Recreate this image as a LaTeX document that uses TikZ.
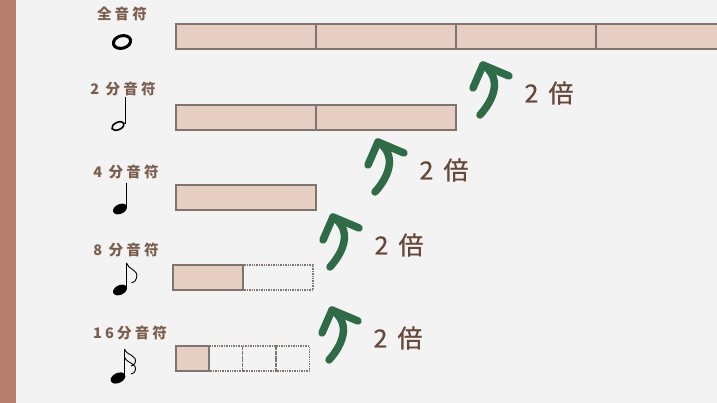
\documentclass[tikz,border=0pt]{standalone}
\usepackage{fontspec}
\usepackage{tikz}
\newfontfamily\jplabel[LetterSpace=22]{Noto Sans CJK JP}
\newfontfamily\jptimes[LetterSpace=18, FakeBold=0.6]{Noto Sans CJK JP}
\definecolor{bg}{HTML}{F3F3F3}
\definecolor{side}{HTML}{B87F6C}
\definecolor{cf}{HTML}{E6CFC2}
\definecolor{cg}{HTML}{7E7571}
\definecolor{up}{HTML}{2F6B47}
\definecolor{lc}{HTML}{7B5F4E}
\definecolor{tc}{HTML}{66493A}
\tikzset{
	every picture/.style={
		x=1pt,
		y=-1pt,
	},
}
\tikzstyle{cell} = [
	draw=cg,
	fill=cf,
	line width=2pt
]
\tikzstyle{empty} = [
	draw=cg,
	densely dotted,
	line width=1.4pt
]
\tikzstyle{kind} = [
	text=lc,
	inner sep=0mm,
	font=\jplabel\bfseries\fontsize{14.5}{14.5}\selectfont
]
\tikzstyle{times} = [
	text=tc,
	inner sep=0mm,
	font=\jptimes\fontsize{25}{25}\selectfont
]
\tikzstyle{arc} = [
	draw=up,
	line width=7.5pt,
	line cap=round,
	line join=round
]
\tikzstyle{stem} = [
	draw=black,
	line width=.9pt
]

\begin{document}
\begin{tikzpicture}
	\useasboundingbox (0,0) rectangle (717,403);
	\fill[bg] (0,0) rectangle (717,403);
	\fill[side] (0,0) rectangle (16,403);

	% note names
	\node[kind] (k1) at (122,14) {全音符};
	\node[kind] (k2) at (123,89) {2 分音符};
	\node[kind] (k4) at (126,172) {4 分音符};
	\node[kind] (k8) at (126,250) {8 分音符};
	\node[kind] (k16) at (130,333) {16分音符};

	% notes
	\draw[line width=3pt, rotate around={15:(122,42)}] (122,42) ellipse [x radius=8.8, y radius=6.2];
	\draw[line width=1.6pt, rotate around={25:(118,126)}] (118,126) ellipse [x radius=6.5, y radius=3.7];
	\draw[stem] (125,97) -- (125,124);
	\fill[rotate around={25:(120,209)}] (120,209) ellipse [x radius=7.4, y radius=4.8];
	\draw[stem] (126.5,183) -- (126.5,207);
	\fill[rotate around={25:(120,290)}] (120,290) ellipse [x radius=7.4, y radius=4.8];
	\draw[stem] (126.5,263) -- (126.5,288);
	\draw[stem] (126.5,263) .. controls (128,270) and (139,269) .. (136.5,278) .. controls (135.5,281) .. (131.5,283);
	\fill[rotate around={25:(118,378)}] (118,378) ellipse [x radius=7.8, y radius=5];
	\draw[stem] (124.5,349) -- (124.5,376);
	\draw[stem] (124.5,349) .. controls (127,356) and (138,355) .. (135,363) .. controls (134,365) .. (131,366);
	\draw[stem] (124.5,357) .. controls (127,364) and (138,363) .. (135,371) .. controls (134,373) .. (131,374);

	% bars
	\foreach \y/\n in {24/4, 105/2, 185/1}
		\foreach \i in {1, ..., \n}
			\draw[cell] (36+140*\i, \y) rectangle ++(140, 25);

	\draw[empty] (243,265) rectangle ++(70,25);
	\draw[cell] (173,265) rectangle ++(70,25);

	\foreach \x in {209, 242.5, 276}
		\draw[empty] (\x,346) rectangle ++(33.5,25);
	\draw[cell] (176,346) rectangle ++(33,25);

	% arrows
	\foreach \n/\x/\y in {1/483/65, 2/378/142, 3/333/217, 4/332/310} {
		\coordinate (t\n) at (\x,\y);
		\draw[arc] (t\n) .. controls +(18,12) and +(16,-18) .. ++(-3,50);
		\draw[arc] ([shift={(-10,23)}]t\n) -- (t\n) -- ([shift={(26,11)}]t\n);
		\node[times] (m\n) at ([shift={(66,28)}]t\n) {2 倍};
	}
\end{tikzpicture}
\end{document}
